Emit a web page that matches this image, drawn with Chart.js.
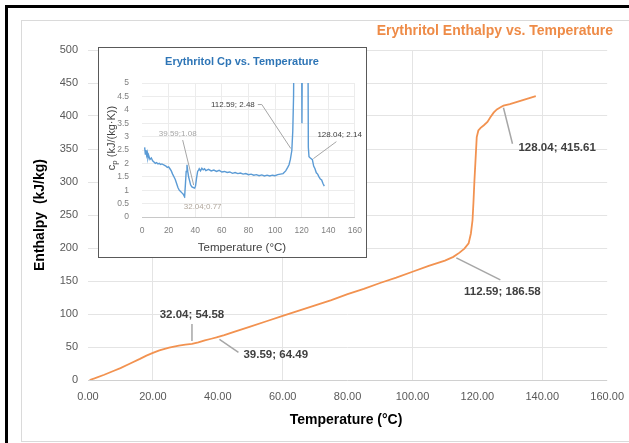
<!DOCTYPE html>
<html>
<head>
<meta charset="utf-8">
<script src="https://cdn.jsdelivr.net/npm/chart.js@4.4.1/dist/chart.umd.min.js"></script>
<style>
  html, body { margin: 0; padding: 0; background: #fff; }
  #wrap { position: relative; width: 629px; height: 443px; overflow: hidden; }
  #blackFrame { position: absolute; left: 5px; top: 5px; width: 640px; height: 450px; border-top: 3px solid #000; border-left: 3px solid #000; }
  #greyFrame { position: absolute; left: 21px; top: 20px; width: 620px; height: 420px; border: 1px solid #dadada; }
  #mainChart { position: absolute; left: 0; top: 0; }
  #inset { position: absolute; left: 98px; top: 47px; width: 267px; height: 209px; border: 1px solid #595959; background: #fff; overflow: hidden; }
  #insetChart { position: absolute; left: 0; top: 0; }
</style>
</head>
<body>
<div id="wrap">
  <div id="blackFrame"></div>
  <div id="greyFrame"></div>
  <canvas id="mainChart" width="634" height="443"></canvas>
  <div id="inset"><canvas id="insetChart" width="272" height="209"></canvas></div>
</div>
<script>
// =========================================
// DATA
// =========================================
// enthalpy curve (°C -> kJ/kg)
const enthTemp = [0.5, 2, 5, 8, 10, 13, 16, 18, 20, 22, 25, 28, 30, 32.04, 34, 36, 38, 39.59, 42, 45, 50, 55, 60, 65, 70, 75, 80, 85, 90, 95, 100, 105, 110, 112.59, 114.5, 116, 117.3, 118, 118.5, 118.8, 119.1, 119.5, 119.8, 120.3, 121, 122, 123.1, 124, 125, 126, 127, 128.04, 130, 132, 134, 136, 138];
const enthVal  = [0, 2.5, 8, 14, 18, 25, 32, 37, 41, 45, 49, 52, 53.5, 54.58, 57, 60, 62.5, 64.49, 68, 73, 81, 89, 97, 105, 113, 121, 130, 138, 147, 155, 164, 173, 181, 186.58, 193, 199, 207, 222, 242, 270, 303, 340, 368, 378, 382, 386, 391, 398, 405, 410, 413, 415.61, 418, 421, 424, 427, 430];

// specific heat curve (°C -> kJ/(kg·K)), peaks run above the 5.0 axis limit
const cpTemp = [2, 2.5, 3, 3.5, 4, 4.5, 5, 6, 7, 8, 9, 10, 11, 12, 13, 14, 15, 16, 17, 18, 19, 20, 21, 22, 23, 24, 25, 26, 27, 28, 29, 30, 31, 31.5, 32.04, 32.6, 33.2, 33.8, 34.4, 35, 35.8, 36.5, 37.5, 38.5, 39.59, 40.2, 41, 41.8, 42.5, 43, 44, 45, 46, 47, 48, 50, 52, 54, 56, 58, 60, 62, 64, 66, 68, 70, 72, 74, 76, 78, 80, 82, 84, 86, 88, 90, 92, 94, 96, 98, 100, 102, 104, 106, 108, 109.5, 110.5, 111.5, 112.59, 113.3, 113.9, 114.3, 115, 119.8, 120.2, 120.7, 124.6, 125, 125.5, 126.5, 128.04, 129, 130, 131, 132, 133, 134, 135, 136, 137];
const cpVal  = [2.6, 2.35, 2.5, 2.3, 2.4, 2.2, 2.3, 2.15, 2.2, 2.1, 2.05, 2.0, 2.03, 1.98, 2.0, 1.96, 1.98, 1.95, 1.93, 1.9, 1.85, 1.87, 1.8, 1.72, 1.6, 1.5, 1.4, 1.25, 1.1, 1.0, 0.95, 0.9, 0.85, 0.8, 0.77, 1.2, 1.7, 1.95, 1.7, 1.5, 1.35, 1.2, 1.12, 1.1, 1.08, 1.15, 1.45, 1.7, 1.75, 1.8, 1.72, 1.82, 1.76, 1.8, 1.73, 1.78, 1.72, 1.75, 1.7, 1.74, 1.68, 1.7, 1.66, 1.68, 1.63, 1.66, 1.62, 1.64, 1.6, 1.62, 1.58, 1.6, 1.56, 1.58, 1.54, 1.57, 1.53, 1.56, 1.53, 1.56, 1.54, 1.58, 1.6, 1.62, 1.72, 1.85, 1.95, 2.15, 2.48, 3.2, 4.5, 7, 8, 8, 3.5, 8, 8, 2.6, 2.25, 2.2, 2.14, 1.9, 1.8, 1.65, 1.6, 1.5, 1.42, 1.38, 1.25, 1.15];

// labelled points
const mainNoteTemp = [32.04, 39.59, 112.59, 128.04];
const mainNoteVal  = [54.58, 64.49, 186.58, 415.61];
const insetNoteTemp = [39.59, 32.04, 112.59, 128.04];
const insetNoteVal  = [1.08, 0.77, 2.48, 2.14];

// axis ranges / ticks
const mainXRange = [0, 160], mainXStep = 20;
const mainYRange = [0, 500], mainYStep = 50;
const insetXRange = [0, 160], insetXStep = 20;
const insetYRange = [0, 5], insetYStep = 0.5;

// =========================================
// LAYOUT / STYLE
// =========================================
const FONT = '"Liberation Sans", Arial, sans-serif';

// label placement relative to the point (px)
const mainNoteLayout = [
  { dx: 0,  dy: -29, align: 'center', sep: '; ', lead: [[0, -3], [0, -20]] },
  { dx: 27, dy: 17,  align: 'left',   sep: '; ', lead: [[3, 2], [22, 15]] },
  { dx: 49, dy: 35,  align: 'center', sep: '; ', lead: [[3, 1], [47, 23]] },
  { dx: 15, dy: 42,  align: 'left',   sep: '; ', lead: [[0, 2], [9, 38]] }
];
const insetNoteLayout = [
  { dx: -17, dy: -54, align: 'center', sep: ';',  color: '#a6a6a6', lead: [[-12, -48], [-1, -3]] },
  { dx: 18,  dy: 10,  align: 'center', sep: ';',  color: '#b0a79c', lead: null },
  { dx: -37, dy: -46, align: 'right',  sep: '; ', color: '#404040', lead: [[-34, -46], [-30, -46], [-1, -2]] },
  { dx: 5,   dy: -25, align: 'left',   sep: '; ', color: '#404040', lead: [[1, -1], [24, -18]] }
];

const toXY = (xs, ys) => xs.map((t, i) => ({ x: t, y: ys[i] }));
const fmt2 = v => v.toFixed(2);

function notesPlugin(id, temps, vals, layout, font, defColor, leadColor, leadWidth) {
  return {
    id,
    afterDatasetsDraw(chart) {
      const { ctx, scales: { x, y } } = chart;
      temps.forEach((t, i) => {
        const px = x.getPixelForValue(t), py = y.getPixelForValue(vals[i]);
        const L = layout[i];
        ctx.save();
        if (L.lead) {
          ctx.strokeStyle = leadColor;
          ctx.lineWidth = leadWidth;
          ctx.beginPath();
          L.lead.forEach((p, k) => k ? ctx.lineTo(px + p[0], py + p[1]) : ctx.moveTo(px + p[0], py + p[1]));
          ctx.stroke();
        }
        ctx.font = font;
        ctx.fillStyle = L.color || defColor;
        ctx.textAlign = L.align;
        ctx.textBaseline = 'middle';
        ctx.fillText(fmt2(t) + L.sep + fmt2(vals[i]), px + L.dx, py + L.dy);
        ctx.restore();
      });
    }
  };
}

// =========================================
// MAIN CHART: ENTHALPY
// =========================================
const mainTitles = {
  id: 'mainTitles',
  afterDraw(chart) {
    const ctx = chart.ctx;
    ctx.save();
    ctx.fillStyle = '#EE8B47';
    ctx.font = 'bold 14px ' + FONT;
    ctx.textAlign = 'right';
    ctx.textBaseline = 'middle';
    ctx.fillText('Erythritol Enthalpy vs. Temperature', 613, 31);

    ctx.fillStyle = '#000';
    ctx.font = 'bold 14px ' + FONT;
    ctx.textAlign = 'center';
    ctx.fillText('Temperature (°C)', 346, 420);

    ctx.translate(40, 215);
    ctx.rotate(-Math.PI / 2);
    ctx.fillText('Enthalpy  (kJ/kg)', 0, 0);
    ctx.restore();
  }
};

new Chart(document.getElementById('mainChart'), {
  type: 'line',
  data: {
    datasets: [{
      data: toXY(enthTemp, enthVal),
      borderColor: '#F29250',
      borderWidth: 1.8,
      pointRadius: 0,
      tension: 0,
      fill: false
    }]
  },
  options: {
    responsive: false,
    animation: false,
    layout: { padding: { left: 28, top: 50, right: 5, bottom: 23 } },
    plugins: { legend: { display: false }, tooltip: { enabled: false } },
    scales: {
      x: {
        type: 'linear',
        min: mainXRange[0], max: mainXRange[1],
        afterFit: s => { s.height = 40; },
        border: { display: false },
        grid: {
          drawTicks: false,
          color: c => (c.tick && c.tick.value % 40 === 20) ? '#e4e4e4' : 'rgba(0,0,0,0)'
        },
        ticks: {
          stepSize: mainXStep, padding: 10, color: '#595959',
          font: { family: FONT, size: 11 },
          callback: v => fmt2(v)
        }
      },
      y: {
        min: mainYRange[0], max: mainYRange[1],
        afterFit: s => { s.width = 60; },
        border: { display: false },
        grid: {
          drawTicks: false,
          color: c => (c.tick && c.tick.value === 0) ? '#d0d0d0' : '#e4e4e4'
        },
        ticks: {
          stepSize: mainYStep, padding: 10, color: '#595959',
          font: { family: FONT, size: 11 }
        }
      }
    }
  },
  plugins: [
    notesPlugin('mainNotes', mainNoteTemp, mainNoteVal, mainNoteLayout, 'bold 11.5px ' + FONT, '#404040', '#a6a6a6', 1.5),
    mainTitles
  ]
});

// =========================================
// INSET CHART: Cp
// =========================================
const insetTitles = {
  id: 'insetTitles',
  afterDraw(chart) {
    const ctx = chart.ctx;
    ctx.save();
    ctx.textBaseline = 'middle';
    ctx.fillStyle = '#2E75B6';
    ctx.font = 'bold 11px ' + FONT;
    ctx.textAlign = 'center';
    ctx.fillText('Erythritol Cp vs. Temperature', 143, 14);

    ctx.fillStyle = '#404040';
    ctx.font = '11.5px ' + FONT;
    ctx.fillText('Temperature (°C)', 143, 200);

    // y title with subscript p
    ctx.translate(13, 90);
    ctx.rotate(-Math.PI / 2);
    ctx.textAlign = 'left';
    const big = '11px ' + FONT, small = '8px ' + FONT;
    ctx.font = big; const wc = ctx.measureText('c').width;
    const rest = ' (kJ/(kg·K))';
    const wr = ctx.measureText(rest).width;
    ctx.font = small; const wp = ctx.measureText('p').width;
    let x0 = -(wc + wp + wr) / 2;
    ctx.font = big; ctx.fillText('c', x0, 0);
    ctx.font = small; ctx.fillText('p', x0 + wc, 3);
    ctx.font = big; ctx.fillText(rest, x0 + wc + wp, 0);
    ctx.restore();
  }
};

new Chart(document.getElementById('insetChart'), {
  type: 'line',
  data: {
    datasets: [{
      data: toXY(cpTemp, cpVal),
      borderColor: '#5B9BD5',
      borderWidth: 1.4,
      pointRadius: 0,
      tension: 0,
      fill: false
    }]
  },
  options: {
    responsive: false,
    animation: false,
    layout: { padding: { left: 13, top: 35, right: 6, bottom: 15 } },
    plugins: { legend: { display: false }, tooltip: { enabled: false } },
    scales: {
      x: {
        type: 'linear',
        min: insetXRange[0], max: insetXRange[1],
        afterFit: s => { s.height = 25; },
        border: { display: false },
        grid: { drawTicks: false, color: c => (c.tick && c.tick.value === 0) ? 'rgba(0,0,0,0)' : '#ececec' },
        ticks: { stepSize: insetXStep, padding: 9, color: '#808080', font: { family: FONT, size: 8.5 } }
      },
      y: {
        min: insetYRange[0], max: insetYRange[1],
        afterFit: s => { s.width = 30; },
        border: { display: false },
        grid: { drawTicks: false, color: c => (c.tick && c.tick.value === 0) ? '#c8c8c8' : '#ececec' },
        ticks: {
          stepSize: insetYStep, padding: 13, color: '#808080', font: { family: FONT, size: 8.5 },
          callback: v => String(+v.toFixed(1))
        }
      }
    }
  },
  plugins: [
    notesPlugin('insetNotes', insetNoteTemp, insetNoteVal, insetNoteLayout, '8px ' + FONT, '#404040', '#a6a6a6', 1),
    insetTitles
  ]
});
</script>
</body>
</html>
